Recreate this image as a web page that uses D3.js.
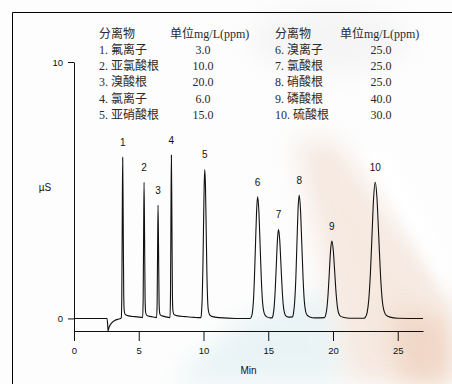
<!DOCTYPE html>
<html><head><meta charset="utf-8">
<script src="https://cdn.jsdelivr.net/npm/d3@7"></script>
<style>html,body{margin:0;padding:0;background:#fff;} svg{display:block;}</style>
</head><body><svg id="c" width="452" height="384"></svg>
<script>
// ---- data ----
const tableHeader = ["分离物", "单位mg/L(ppm)"];
const analytes = ["氟离子","亚氯酸根","溴酸根","氯离子","亚硝酸根","溴离子","氯酸根","硝酸根","磷酸根","硫酸根"];
const concentrations = ["3.0","10.0","20.0","6.0","15.0","25.0","25.0","25.0","40.0","30.0"];
const peakLabels = ["1","2","3","4","5","6","7","8","9","10"];
const peakTimes = [3.76, 5.41, 6.49, 7.52, 10.1, 14.18, 15.79, 17.39, 19.91, 23.26];
const peakHeights = [6.28, 5.31, 4.42, 6.37, 5.81, 4.75, 3.48, 4.81, 3.02, 5.31];
const xTicks = [0, 5, 10, 15, 20, 25];
const yTicks = [0, 10];
const xTitle = "Min";
const yTitle = "µS";
// chromatogram trace: [time (min), signal (µS)]
const trace = [
[0,0],[2.55,0],[2.6,-0.25],[2.63,-0.49],[2.7,-0.36],[2.8,-0.25],[2.95,-0.15],[3.15,-0.08],[3.4,-0.03],[3.6,0],
[3.65,0.02],[3.69,0.85],[3.725,3.8],[3.76,6.28],[3.8,3.8],[3.84,0.9],[3.88,0.3],[3.95,0.16],[4.2,0.1],[4.7,0.07],[5.2,0.04],
[5.3,0.03],[5.34,0.72],[5.375,3.22],[5.41,5.31],[5.45,3.22],[5.49,0.75],[5.53,0.25],[5.6,0.13],[5.85,0.08],[6.3,0.04],
[6.38,0.03],[6.42,0.6],[6.455,2.68],[6.49,4.42],[6.53,2.68],[6.57,0.65],[6.61,0.23],[6.68,0.13],[6.95,0.08],[7.3,0.04],
[7.41,0.03],[7.45,0.86],[7.485,3.88],[7.52,6.37],[7.56,3.88],[7.6,0.9],[7.64,0.3],[7.71,0.16],[8.0,0.1],[8.6,0.07],[9.3,0.04],[9.75,0.03],
[9.8,0.03],[9.85,0.26],[9.9,0.79],[9.95,1.89],[10.0,3.53],[10.05,5.13],[10.1,5.81],[10.155,5.1],[10.21,3.4],[10.265,1.7],[10.32,0.7],[10.38,0.3],[10.48,0.14],[10.7,0.07],[11.2,0.03],[12.5,0],
[13.6,0],[13.685,0.05],[13.77,0.21],[13.85,0.64],[13.93,1.54],[14.015,2.88],[14.1,4.19],[14.18,4.75],[14.275,4.19],[14.37,2.88],[14.465,1.54],[14.56,0.64],[14.655,0.27],[14.75,0.13],[14.9,0.06],[15.15,0.02],
[15.3,0.02],[15.38,0.15],[15.46,0.47],[15.54,1.13],[15.625,2.11],[15.71,3.07],[15.79,3.48],[15.885,3.07],[15.98,2.11],[16.075,1.13],[16.17,0.47],[16.265,0.2],[16.36,0.1],[16.55,0.05],
[16.865,0.06],[16.95,0.21],[17.04,0.65],[17.13,1.56],[17.215,2.92],[17.3,4.24],[17.39,4.81],[17.49,4.24],[17.59,2.92],[17.69,1.56],[17.79,0.65],[17.89,0.27],[18.0,0.13],[18.2,0.06],[18.6,0.02],
[19.34,0.03],[19.435,0.13],[19.53,0.41],[19.625,0.98],[19.72,1.83],[19.815,2.67],[19.91,3.02],[20.02,2.67],[20.13,1.83],[20.24,0.98],[20.35,0.41],[20.46,0.17],[20.6,0.08],[20.85,0.04],[21.3,0.01],
[22.4,0.01],[22.51,0.06],[22.635,0.23],[22.76,0.72],[22.885,1.72],[23.01,3.22],[23.135,4.69],[23.26,5.31],[23.395,4.69],[23.53,3.22],[23.665,1.72],[23.8,0.72],[23.935,0.3],[24.1,0.13],[24.4,0.05],[25.0,0.01],[26.95,0]
];

// ---- drawing ----
const svg = d3.select("#c");
const defs = svg.append("defs");
defs.append("filter").attr("id","blurBig").attr("x","-50%").attr("y","-50%").attr("width","200%").attr("height","200%")
  .append("feGaussianBlur").attr("stdDeviation", 12);
defs.append("filter").attr("id","blurSmall").attr("x","-50%").attr("y","-50%").attr("width","200%").attr("height","200%")
  .append("feGaussianBlur").attr("stdDeviation", 6);

// decorative background
const bg = svg.append("g");
bg.append("rect").attr("width",452).attr("height",384).attr("fill","#fdfdfd");
bg.append("ellipse").attr("cx",330).attr("cy",40).attr("rx",80).attr("ry",35).attr("fill","#ececec").attr("opacity",0.45).attr("filter","url(#blurBig)");
bg.append("polygon").attr("points","170,384 345,384 330,290 240,320").attr("fill","#d9ecef").attr("opacity",0.55).attr("filter","url(#blurBig)");
bg.append("polygon").attr("points","295,140 335,140 452,300 452,384 350,384").attr("fill","#f0d9ca").attr("opacity",0.55).attr("filter","url(#blurBig)");
bg.append("polygon").attr("points","390,310 452,320 452,384 400,384").attr("fill","#ecc8b0").attr("opacity",0.55).attr("filter","url(#blurBig)");
bg.append("polygon").attr("points","362,150 388,150 452,265 452,300").attr("fill","#ffffff").attr("opacity",0.9).attr("filter","url(#blurSmall)");

// frame
svg.append("line").attr("x1",12.5).attr("y1",12.5).attr("x2",452).attr("y2",12.5).attr("stroke","#000").attr("stroke-width",1);
svg.append("line").attr("x1",12.5).attr("y1",12.5).attr("x2",12.5).attr("y2",384).attr("stroke","#000").attr("stroke-width",1);

// table
const tf = "'Liberation Serif','Times New Roman','Noto Sans CJK SC',serif";
const tbl = svg.append("g").attr("font-family", tf).attr("font-size", 12).attr("fill", "#2a2a2a");
const rowY = i => 33.5 + 16.3 * i;
[[99, 170], [275, 340]].forEach(([xa, xb]) => {
  tbl.append("text").attr("x", xa).attr("y", rowY(0)).attr("dominant-baseline","central").text(tableHeader[0]);
  tbl.append("text").attr("x", xb).attr("y", rowY(0)).attr("dominant-baseline","central").text(tableHeader[1]);
});
analytes.forEach((a, i) => {
  const col = i < 5 ? 0 : 1;
  const r = (i % 5) + 1;
  const xa = col === 0 ? 99 : 275;
  const xv = col === 0 ? 203 : 381;
  tbl.append("text").attr("x", xa).attr("y", rowY(r)).attr("dominant-baseline","central").text(`${i+1}. ${a}`);
  tbl.append("text").attr("x", xv).attr("y", rowY(r)).attr("dominant-baseline","central").attr("text-anchor","middle").text(concentrations[i]);
});

// scales
const x = d3.scaleLinear().domain([0, 26.95]).range([74, 423]);
const y = d3.scaleLinear().domain([-0.49, 10]).range([331, 62]);
const af = "'Liberation Sans',Arial,sans-serif";

const xAxis = svg.append("g").attr("transform", `translate(0,${y(-0.49)})`)
  .call(d3.axisBottom(x).tickValues(xTicks).tickSize(10).tickSizeOuter(0).tickPadding(6));
const yAxis = svg.append("g").attr("transform", `translate(${x(0)},0)`)
  .call(d3.axisLeft(y).tickValues(yTicks).tickSize(6).tickSizeOuter(0).tickPadding(5));
[xAxis, yAxis].forEach(g => {
  g.attr("font-family", af).attr("font-size", 9.5);
  g.selectAll("path").attr("stroke","#111").attr("stroke-width",1);
  g.selectAll("line").attr("stroke","#111").attr("stroke-width",1);
  g.selectAll("text").attr("fill","#111");
});

svg.append("text").attr("x", (x(0)+x(26.95))/2).attr("y", 370).attr("text-anchor","middle")
  .attr("dominant-baseline","central").attr("font-family", af).attr("font-size", 10).attr("fill","#111").text(xTitle);
svg.append("text").attr("x", 45).attr("y", 187).attr("text-anchor","middle")
  .attr("dominant-baseline","central").attr("font-family", af).attr("font-size", 10).attr("fill","#111").text(yTitle);

// trace
const line = d3.line().x(d => x(d[0])).y(d => y(d[1])).curve(d3.curveMonotoneX);
svg.append("path").datum(trace).attr("d", line).attr("fill","none").attr("stroke","#111").attr("stroke-width",1.1).attr("stroke-linejoin","round");

// peak labels
svg.append("g").attr("font-family", af).attr("font-size", 10).attr("fill","#111")
  .selectAll("text").data(peakLabels).join("text")
  .attr("x", (d, i) => x(peakTimes[i]))
  .attr("y", (d, i) => y(peakHeights[i]) - 14.5)
  .attr("text-anchor","middle").attr("dominant-baseline","central")
  .text(d => d);
</script>
</body></html>
